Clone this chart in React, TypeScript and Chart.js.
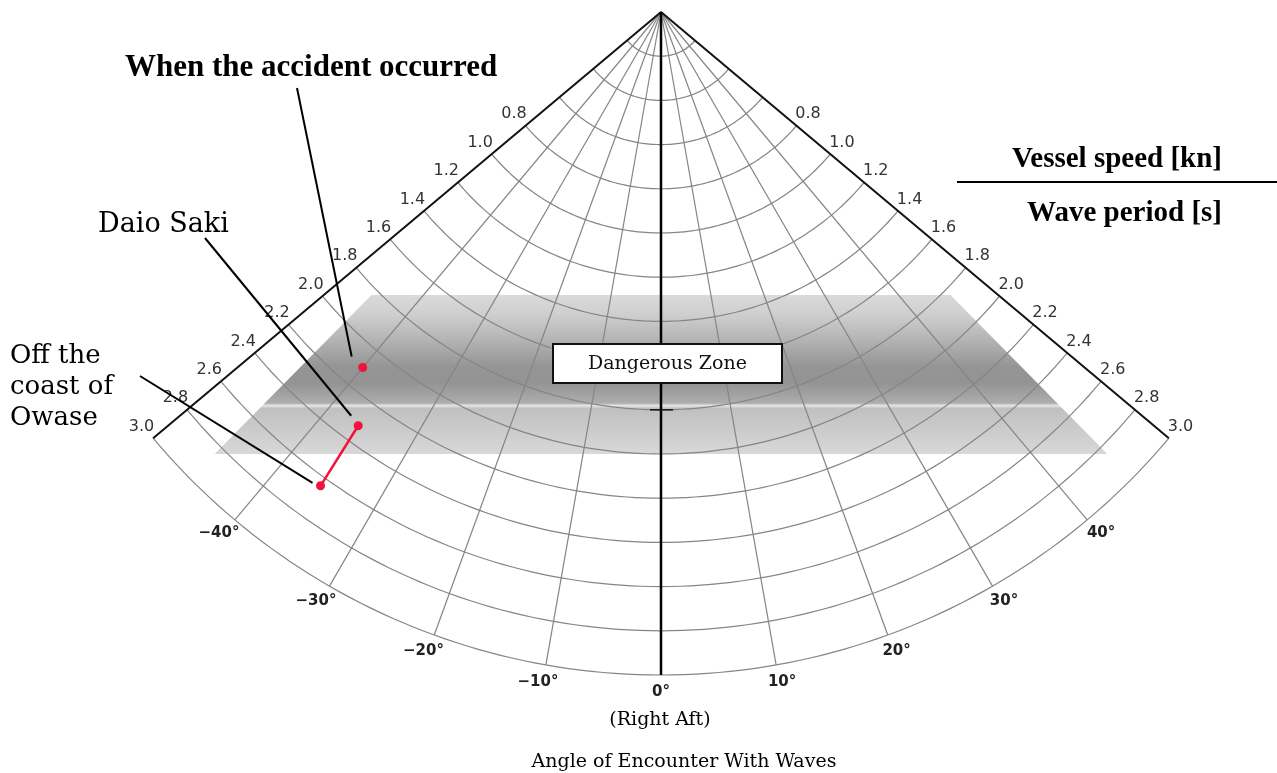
import React, { useEffect, useRef } from "react";
import { Chart, registerables } from "chart.js";

Chart.register(...registerables);

// ---------- data ----------
const periodTicks = [0.2, 0.4, 0.6, 0.8, 1.0, 1.2, 1.4, 1.6, 1.8, 2.0, 2.2, 2.4, 2.6, 2.8, 3.0];
const periodLabels = ["0.8", "1.0", "1.2", "1.4", "1.6", "1.8", "2.0", "2.2", "2.4", "2.6", "2.8", "3.0"];
const periodLabelValues = [0.8, 1.0, 1.2, 1.4, 1.6, 1.8, 2.0, 2.2, 2.4, 2.6, 2.8, 3.0];
const angleTicks = [-40, -30, -20, -10, 0, 10, 20, 30, 40];
const angleLabels = ["−40°", "−30°", "−20°", "−10°", "0°", "10°", "20°", "30°", "40°"];
const edgeAngles = [-50, 50];
const maxPeriod = 3.0;

const pointNames = ["When the accident occurred", "Daio Saki", "Off the coast of Owase"];
const pointAngles = [-40, -36.2, -35.7];
const pointPeriods = [2.1, 2.32, 2.64];

const zoneX = [-1.31, 1.31, 2.02, -2.02];
const zoneY = [-1.28, -1.28, -2.0, -2.0];
const markerPeriod = 1.8;

// ---------- layout ----------
const W = 1277;
const H = 773;
const APEX_X = 661;
const APEX_Y = 12;
const PX = 221; // pixels per unit

const toXY = (angleDeg: number, v: number) => {
  const r = (angleDeg * Math.PI) / 180;
  return { x: v * Math.sin(r), y: -v * Math.cos(r) };
};

function arcPoints(v: number) {
  const pts = [];
  for (let a = -50; a <= 50; a += 1) pts.push(toXY(a, v));
  return pts;
}

const SERIF = "'DejaVu Serif', serif";
const BOLD_SERIF = "'Liberation Serif', serif";
const SANS = "'DejaVu Sans', sans-serif";

const annotPlugin = {
  id: "annot",
  afterDatasetsDraw(chart: any) {
    const { ctx } = chart;
    const xs = chart.scales.x;
    const ys = chart.scales.y;
    const P = (p: { x: number; y: number }) => ({ X: xs.getPixelForValue(p.x), Y: ys.getPixelForValue(p.y) });
    ctx.save();

    // edge labels (period)
    ctx.font = `16px ${SANS}`;
    ctx.fillStyle = "#333";
    ctx.textAlign = "center";
    ctx.textBaseline = "middle";
    periodLabelValues.forEach((v, i) => {
      edgeAngles.forEach((a) => {
        const p = P(toXY(a, v));
        const s = a < 0 ? -1 : 1;
        const nx = s * Math.cos((50 * Math.PI) / 180);
        const ny = -Math.sin((50 * Math.PI) / 180);
        ctx.fillText(periodLabels[i], p.X + nx * 18, p.Y + ny * 15);
      });
    });

    // angle labels
    ctx.font = `bold 15px ${SANS}`;
    ctx.fillStyle = "#222";
    angleTicks.forEach((a, i) => {
      const p = P(toXY(a, maxPeriod + 17 / PX));
      const shift = a < 0 ? -5 : a > 0 ? 3 : 0;
      ctx.fillText(angleLabels[i], p.X + shift, p.Y);
    });

    // marker tick on centre line
    const m = P(toXY(0, markerPeriod));
    ctx.strokeStyle = "#111";
    ctx.lineWidth = 1.5;
    ctx.beginPath();
    ctx.moveTo(m.X - 11, m.Y);
    ctx.lineTo(m.X + 12, m.Y);
    ctx.stroke();

    // Dangerous zone box
    ctx.fillStyle = "#fff";
    ctx.fillRect(553, 344, 229, 39);
    ctx.strokeStyle = "#111";
    ctx.lineWidth = 2;
    ctx.strokeRect(553, 344, 229, 39);
    ctx.fillStyle = "#111";
    ctx.font = `19px ${SERIF}`;
    ctx.textAlign = "center";
    ctx.textBaseline = "middle";
    ctx.fillText("Dangerous Zone", 667.5, 364);

    // leader lines
    const anchors = [
      { sx: 297, sy: 88, ox: -11, oy: -11 },
      { sx: 205, sy: 238, ox: -7, oy: -10 },
      { sx: 140, sy: 376, ox: -8, oy: -3 },
    ];
    ctx.strokeStyle = "#000";
    ctx.lineWidth = 2;
    anchors.forEach((an, i) => {
      const p = P(toXY(pointAngles[i], pointPeriods[i]));
      ctx.beginPath();
      ctx.moveTo(an.sx, an.sy);
      ctx.lineTo(p.X + an.ox, p.Y + an.oy);
      ctx.stroke();
    });

    // annotation texts
    ctx.fillStyle = "#000";
    ctx.textBaseline = "alphabetic";
    ctx.textAlign = "left";
    ctx.font = `bold 31px ${BOLD_SERIF}`;
    ctx.fillText(pointNames[0], 125, 76);
    ctx.font = `27px ${SERIF}`;
    ctx.fillText(pointNames[1], 98, 232);
    ctx.font = `26px ${SERIF}`;
    ctx.fillText("Off the", 10, 363);
    ctx.fillText("coast of", 10, 394);
    ctx.fillText("Owase", 10, 425);

    // fraction legend
    ctx.textAlign = "right";
    ctx.font = `bold 29px ${BOLD_SERIF}`;
    ctx.fillText("Vessel speed [kn]", 1222, 167);
    ctx.fillText("Wave period [s]", 1222, 221);
    ctx.strokeStyle = "#000";
    ctx.lineWidth = 2;
    ctx.beginPath();
    ctx.moveTo(957, 182);
    ctx.lineTo(1277, 182);
    ctx.stroke();

    // bottom captions
    ctx.textAlign = "center";
    ctx.font = `19px ${SERIF}`;
    ctx.fillText("(Right Aft)", 660, 725);
    ctx.fillText("Angle of Encounter With Waves", 684, 767);

    ctx.restore();
  },
};

export default function App() {
  const ref = useRef<HTMLCanvasElement | null>(null);
  useEffect(() => {
    if (!ref.current) return;
    const datasets: any[] = [];

    // danger zone polygon
    const zonePts = zoneX.map((x, i) => ({ x, y: zoneY[i] }));
    zonePts.push({ ...zonePts[0] });
    datasets.push({
      label: "zone",
      data: zonePts,
      showLine: true,
      fill: "shape",
      borderWidth: 0,
      borderColor: "rgba(0,0,0,0)",
      pointRadius: 0,
      order: 20,
      backgroundColor: (c: any) => {
        const chart = c.chart;
        const ys = chart.scales?.y;
        if (!chart.chartArea || !ys) return "#aaa";
        const top = ys.getPixelForValue(zoneY[0]);
        const bot = ys.getPixelForValue(zoneY[2]);
        const g = chart.ctx.createLinearGradient(0, top, 0, bot);
        g.addColorStop(0, "#dadada");
        g.addColorStop(0.12, "#cfcfcf");
        g.addColorStop(0.28, "#b4b4b4");
        g.addColorStop(0.45, "#959595");
        g.addColorStop(0.55, "#939393");
        g.addColorStop(0.68, "#adadad");
        g.addColorStop(0.695, "#e4e4e4");
        g.addColorStop(0.715, "#c0c0c0");
        g.addColorStop(1, "#d8d8d8");
        return g;
      },
    });

    // arcs
    periodTicks.forEach((v) => {
      datasets.push({
        label: "arc" + v,
        data: arcPoints(v),
        showLine: true,
        borderColor: "#858585",
        borderWidth: 1.2,
        pointRadius: 0,
        fill: false,
        order: 10,
      });
    });
    // rays
    angleTicks.forEach((a) => {
      datasets.push({
        label: "ray" + a,
        data: [toXY(a, 0), toXY(a, maxPeriod)],
        showLine: true,
        borderColor: a === 0 ? "#000" : "#858585",
        borderWidth: a === 0 ? 2.5 : 1.2,
        pointRadius: 0,
        fill: false,
        order: a === 0 ? 4 : 10,
      });
    });
    // edges
    edgeAngles.forEach((a) => {
      datasets.push({
        label: "edge" + a,
        data: [toXY(a, 0), toXY(a, maxPeriod)],
        showLine: true,
        borderColor: "#111",
        borderWidth: 2,
        pointRadius: 0,
        fill: false,
        order: 4,
      });
    });
    // route Daio Saki -> Owase
    datasets.push({
      label: "route",
      data: [toXY(pointAngles[1], pointPeriods[1]), toXY(pointAngles[2], pointPeriods[2])],
      showLine: true,
      borderColor: "#f0143c",
      backgroundColor: "#f0143c",
      borderWidth: 2.5,
      pointRadius: 4.5,
      pointBorderWidth: 0,
      fill: false,
      order: 0,
    });
    datasets.push({
      label: "accident",
      data: [toXY(pointAngles[0], pointPeriods[0])],
      showLine: false,
      borderColor: "#f0143c",
      backgroundColor: "#f0143c",
      pointRadius: 4.5,
      pointBorderWidth: 0,
      order: 0,
    });

    const chart = new Chart(ref.current, {
      type: "scatter",
      data: { datasets },
      options: {
        animation: false,
        responsive: false,
        events: [],
        layout: { padding: 0, autoPadding: false },
        plugins: { legend: { display: false }, tooltip: { enabled: false } },
        scales: {
          x: { type: "linear", display: false, min: -APEX_X / PX, max: (W - APEX_X) / PX },
          y: { type: "linear", display: false, min: -(H - APEX_Y) / PX, max: APEX_Y / PX },
        },
      },
      plugins: [annotPlugin],
    } as any);
    return () => chart.destroy();
  }, []);

  return (
    <div style={{ position: "absolute", left: 0, top: 0, width: W, height: H, background: "#fff" }}>
      <canvas ref={ref} width={W} height={H} style={{ display: "block" }} />
    </div>
  );
}
